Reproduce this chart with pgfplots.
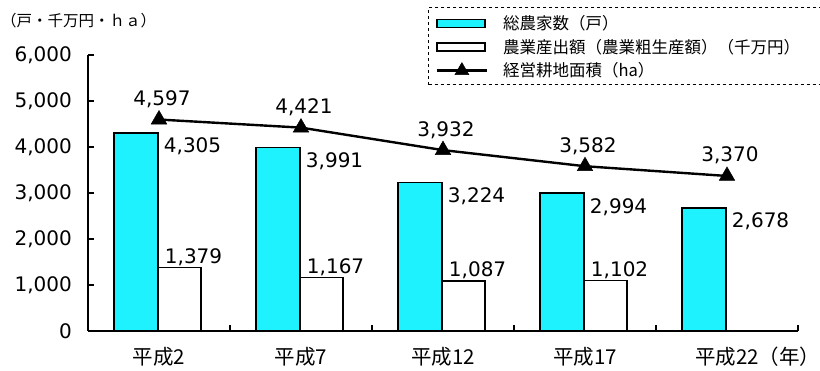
\documentclass[border=0pt]{standalone}
\usepackage{pgfplots}
\usepackage{pgfplotstable}
\pgfplotsset{compat=1.18}
\usepackage{fontspec}
\setmainfont{DejaVu Sans}
\newfontfamily\jp{Noto Sans CJK JP}
\definecolor{farmcyan}{HTML}{1EF2FF}
\tikzset{value label/.style={font=\fontsize{20}{24}\selectfont, inner sep=0pt, text=black}}

% 総農家数（戸）, 農業産出額（千万円）, 経営耕地面積（ha）
\pgfplotstableread{
x farms output area
0 4305 1379 4597
1 3991 1167 4421
2 3224 1087 3932
3 2994 1102 3582
4 2678 nan  3370
}\farmdata

\begin{document}
\begin{tikzpicture}[x=1pt,y=1pt]
\begin{axis}[
  at={(88pt,40pt)}, anchor=south west,
  scale only axis, width=710pt, height=276pt,
  xmin=-0.5, xmax=4.5, ymin=0, ymax=6000,
  enlargelimits=false, clip=false,
  axis x line=bottom, axis y line=left,
  axis line style={-, line width=2.4pt, black},
  /pgf/number format/1000 sep={,},
  /pgf/number format/assume math mode=true,
  ytick={0,1000,...,6000},
  xtick={0,1,2,3,4},
  xticklabels={平成2,平成7,平成12,平成17,平成22\rlap{（年）}},
  minor xtick={0.5,1.5,2.5,3.5,4.5},
  tick align=inside,
  major tick length=6pt, minor tick length=6pt,
  tick style={black, line width=1.6pt},
  major x tick style={draw=none},
  yticklabel style={font=\fontsize{20}{24}\selectfont, inner sep=0pt,
    anchor=east, xshift=-16pt},
  xticklabel style={font=\jp\fontsize{20.5}{24}\selectfont, inner sep=0pt,
    anchor=base, yshift=-34pt},
  legend style={at={(0.479,1.174)}, anchor=north west,
    draw=black, dashed, line width=1.2pt,
    inner xsep=7pt, inner ysep=6pt, row sep=5.5pt,
    font=\jp\fontsize{16.5}{18}\selectfont,
    nodes={inner sep=0pt, anchor=base west, text height=16pt, text depth=2pt},
    /tikz/every odd column/.append style={column sep=15pt}},
  legend cell align=left,
]
% 総農家数
\addplot[ybar, bar width=43.5pt, bar shift=-23pt, fill=farmcyan, draw=black, line width=1.6pt,
  legend image code/.code={\draw[solid, fill=farmcyan, draw=black, line width=1.6pt] (0pt,2pt) rectangle (48pt,10pt);}]
  table[x=x, y=farms] {\farmdata};
\addlegendentry{総農家数（戸）}
% 農業産出額
\addplot[ybar, bar width=43.5pt, bar shift=20.5pt, fill=white, draw=black, line width=1.6pt,
  legend image code/.code={\draw[solid, fill=white, draw=black, line width=1.6pt] (0pt,2pt) rectangle (48pt,10pt);}]
  table[x=x, y=output] {\farmdata};
\addlegendentry{\makebox[314pt][l]{農業産出額（農業粗生産額）（千万円）}}
% 経営耕地面積
\addplot[sharp plot, black, line width=2.4pt, mark=triangle*, mark size=9pt,
  mark options={solid, line width=0.5pt},
  nodes near coords,
  nodes near coords style={value label, anchor=base, xshift=3pt, yshift=14pt},
  legend image code/.code={\draw[solid, line width=2.4pt, mark repeat=2, mark phase=2, mark size=8pt]
    plot coordinates {(0pt,6pt) (25pt,6pt) (50pt,6pt)};}]
  table[x=x, y=area] {\farmdata};
\addlegendentry{経営耕地面積（ha）}
% value labels beside the bars
\addplot[draw=none, mark=none, forget plot, nodes near coords,
  nodes near coords style={value label, anchor=base west, xshift=4.75pt, yshift=-20pt}]
  table[x=x, y=farms] {\farmdata};
\addplot[draw=none, mark=none, forget plot, nodes near coords,
  nodes near coords style={value label, anchor=base west, xshift=5.75pt, yshift=4pt}]
  table[x=x, y=output] {\farmdata};
\end{axis}
\node[anchor=west, inner sep=0pt, font=\jp\fontsize{15.5}{18}\selectfont] at (1pt,350pt) {（戸・千万円・ｈａ）};
\pgfresetboundingbox
\path[use as bounding box] (0pt,0pt) rectangle (820pt,371pt);
\end{tikzpicture}
\end{document}
